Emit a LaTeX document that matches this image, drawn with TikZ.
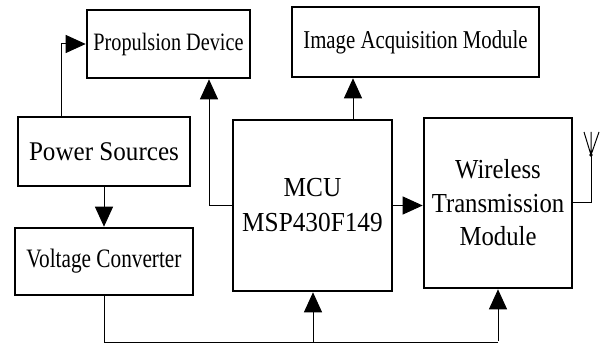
\documentclass[tikz,border=0pt]{standalone}
\usepackage{fontspec}
\setmainfont{Liberation Serif}
\usetikzlibrary{arrows.meta}
\tikzset{
  blk/.style={draw, line width=2.6pt, inner sep=0pt, align=center},
  conn/.style={line width=1pt},
  arr/.style={conn, -{Triangle[length=20pt,width=18pt]}},
}
% condensed text: size, leading, horizontal stretch
\newcommand{\lbl}[3]{\fontsize{#1}{#2}\selectfont\addfontfeatures{FakeStretch=#3}}
\begin{document}
\begin{tikzpicture}[x=1pt,y=-1pt]
\useasboundingbox (0,0) rectangle (603,350);
% blocks
\node[blk, minimum width=163pt, minimum height=68pt, font=\lbl{25}{30}{0.81}] (prop) at (168.5,44) {Propulsion Device};
\node[blk, minimum width=247pt, minimum height=70pt, font=\lbl{25.7}{30}{0.81}] (img) at (415.5,42) {Image Acquisition Module};
\node[blk, minimum width=172pt, minimum height=69pt, font=\lbl{27}{32}{0.93}] (pow) at (104,151.5) {Power Sources};
\node[blk, minimum width=178pt, minimum height=67pt, font=\lbl{26.6}{30}{0.80}] (volt) at (104,261.5) {Voltage Converter};
\node[blk, minimum width=159pt, minimum height=171pt, font=\lbl{27.5}{35}{0.92}] (mcu) at (312.5,205.5) {MCU\\MSP430F149};
\node[blk, minimum width=148pt, minimum height=170pt, font=\lbl{27.5}{33.5}{0.90}] (wl) at (498,203) {Wireless\\Transmission\\Module};
% bus and antenna points
\coordinate (busL) at (104,342);
\coordinate (busM) at (313,342);
\coordinate (busR) at (498,342);
\coordinate (ant) at (591,155);
\coordinate (antL) at (584,132);
\coordinate (antC) at (591,132);
\coordinate (antR) at (599,132);
% connectors
\draw[arr] ([xshift=-43pt]pow.north) |- (prop.west);
\draw[arr] (mcu.west) -| ([xshift=40.5pt]prop.south);
\draw[arr] ([xshift=40.5pt]mcu.north) -- ([xshift=40.5pt]mcu.north |- img.south);
\draw[arr] (pow.south) -- (volt.north);
\draw[arr] (mcu.east) -- (wl.west |- mcu.east);
\draw[conn] (volt.south) -- (busL) -- (busR);
\draw[arr] (busM) -- (mcu.south -| busM);
\draw[arr] ([yshift=1pt]busR) -- (wl.south);
% antenna
\draw[conn] (wl.east) -| (ant);
\draw[conn] (ant) -- (antC) (ant) -- (antL) (ant) -- (antR);
\fill (ant) circle (1.8pt);
\end{tikzpicture}
\end{document}
